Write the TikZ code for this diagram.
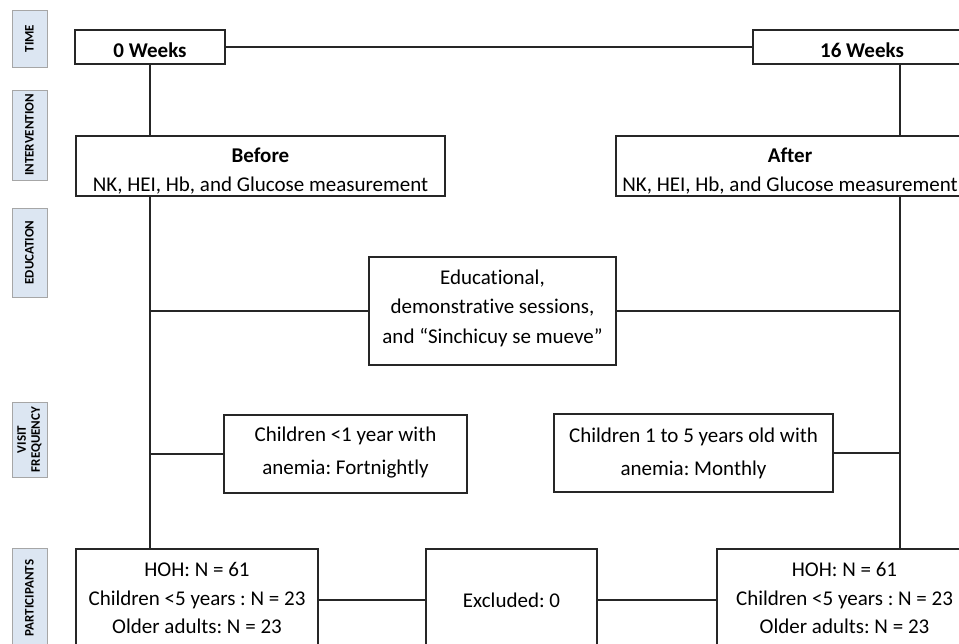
\documentclass[tikz,border=0pt]{standalone}
\usepackage{fontspec}
\setmainfont{Carlito}[Ligatures=NoCommon]
\frenchspacing
\definecolor{labblue}{HTML}{DCE6F2}
\definecolor{labedge}{HTML}{A6A6A6}
\definecolor{ink}{HTML}{262626}
\begin{document}
\begin{tikzpicture}[x=1pt,y=-1pt,
  box/.style={draw=ink, line width=1.2pt, fill=white, inner sep=0pt},
  tx/.style={inner sep=0pt, align=center, text=black, font=\fontsize{21}{29.5}\selectfont},
  lab/.style={draw=labedge, line width=0.9pt, fill=labblue, rotate=90, inner sep=0pt,
    align=center, minimum height=35pt, font=\fontsize{13}{14}\selectfont\bfseries},
  conn/.style={draw=ink, line width=1.2pt}]
\useasboundingbox (0,0) rectangle (959,644);
\clip (0,0) rectangle (959,644);

% row labels
\node[lab, minimum width=57pt] (lt) at (29.5,38.5) {TIME};
\node[lab, minimum width=90pt] (li) at (29.5,135) {INTERVENTION};
\node[lab, minimum width=89pt] (le) at (29.5,252.5) {EDUCATION};
\node[lab, minimum width=75pt] (lv) at (29.5,439.5) {VISIT\\FREQUENCY};
\node[lab, minimum width=100pt] (lp) at (29.5,598) {PARTICIPANTS};

% boxes
\node[box, minimum width=150pt, minimum height=34pt] (w0) at (150,47) {};
\node[box, minimum width=218pt, minimum height=34pt] (w16) at (862,47) {};
\node[box, minimum width=369pt, minimum height=60pt] (bef) at (260.5,166) {};
\node[box, minimum width=348pt, minimum height=60pt] (aft) at (790,166) {};
\node[box, minimum width=247pt, minimum height=108pt] (edu) at (492.5,311) {};
\node[box, minimum width=243pt, minimum height=78pt] (c1) at (345.5,454) {};
\node[box, minimum width=279pt, minimum height=78pt] (c5) at (693.5,453) {};
\node[box, minimum width=242pt, minimum height=102pt] (pl) at (197,600) {};
\node[box, minimum width=171pt, minimum height=102pt] (ex) at (511.5,600) {};
\node[box, minimum width=255pt, minimum height=102pt] (pr) at (844.5,600) {};

% texts
\node[tx] (tw0) at (150,50) {\textbf{0 Weeks}};
\node[tx] (tw16) at (862,50) {\textbf{16 Weeks}};
\node[tx] (tbef) at (260.5,171) {\textbf{Before}\\NK, HEI, Hb, and Glucose measurement};
\node[tx] (taft) at (790,171) {\textbf{After}\\NK, HEI, Hb, and Glucose measurement};
\node[tx] (tedu) at (492.5,308) {Educational,\\demonstrative sessions,\\and “Sinchicuy se mueve”};
\node[tx, font=\fontsize{21}{33}\selectfont] (tc1) at (345.5,453) {Children <1 year with\\anemia: Fortnightly};
\node[tx, font=\fontsize{21}{33}\selectfont] (tc5) at (693.5,453) {Children 1 to 5 years old with\\anemia: Monthly};
\node[tx, font=\fontsize{21}{28.5}\selectfont] (tpl) at (197,598) {HOH: N = 61\\Children <5 years : N = 23\\Older adults: N = 23};
\node[tx] (tex) at (511.5,600) {Excluded: 0};
\node[tx, font=\fontsize{21}{28.5}\selectfont] (tpr) at (844.5,598) {HOH: N = 61\\Children <5 years : N = 23\\Older adults: N = 23};

% spine coordinates
\coordinate (lsp) at (150,0);
\coordinate (rsp) at (900,0);

% connectors
\draw[conn] (w0.east) -- (w16.west);
\draw[conn] (w0.south) -- (lsp |- bef.north);
\draw[conn] (lsp |- bef.south) -- (lsp |- pl.north);
\draw[conn] (rsp |- w16.south) -- (rsp |- aft.north);
\draw[conn] (rsp |- aft.south) -- (rsp |- pr.north);
\draw[conn] (lsp |- edu.west) -- (edu.west);
\draw[conn] (edu.east) -- (rsp |- edu.east);
\draw[conn] (lsp |- c1.west) -- (c1.west);
\draw[conn] (c5.east) -- (rsp |- c5.east);
\draw[conn] (pl.east) -- (ex.west);
\draw[conn] (ex.east) -- (pr.west);
\end{tikzpicture}
\end{document}
